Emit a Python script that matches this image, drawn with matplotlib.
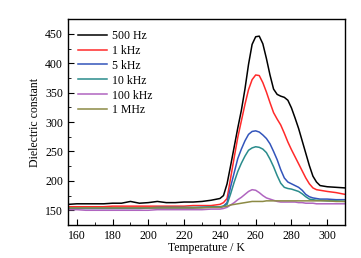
import numpy as np
import matplotlib.pyplot as plt
from matplotlib.ticker import MultipleLocator

plt.rcParams['font.family'] = ['Liberation Serif', 'DejaVu Serif']
plt.rcParams['font.size'] = 8.5

# temperature points (K)
temp = [155, 160, 165, 170, 175, 180, 185, 190, 195, 200, 205, 210, 215, 220, 225, 230, 235, 240,
        242, 244, 246, 248, 250, 252, 254, 256, 258, 260, 262, 264, 266, 268, 270, 272, 274, 276,
        278, 280, 282, 284, 286, 288, 290, 292, 294, 296, 300, 305, 310]

eps_500Hz = [160, 161, 161, 161, 161, 162, 162, 165, 162, 163, 165, 163, 163, 164, 164, 165, 167, 170,
             175, 195, 226, 258, 290, 320, 356, 398, 432, 445, 446, 433, 408, 380, 356, 347, 344, 342,
             337, 324, 307, 289, 268, 247, 226, 208, 198, 192, 190, 189, 188]
eps_1kHz = [156, 156, 156, 156, 156, 157, 157, 157, 157, 157, 157, 157, 157, 157, 158, 158, 158, 160,
            163, 170, 205, 240, 274, 302, 330, 355, 372, 380, 379, 367, 351, 333, 316, 305, 295, 281,
            266, 253, 241, 229, 217, 205, 195, 188, 185, 184, 182, 180, 177]
eps_5kHz = [153, 153, 153, 153, 153, 153, 153, 153, 153, 154, 154, 154, 154, 154, 154, 155, 155, 155,
            157, 163, 190, 214, 238, 254, 268, 279, 284, 285, 283, 278, 272, 263, 250, 236, 219, 205,
            198, 195, 192, 189, 184, 177, 173, 171, 170, 169, 169, 168, 168]
eps_10kHz = [154, 154, 154, 154, 154, 154, 154, 154, 154, 154, 155, 155, 155, 155, 155, 155, 156, 156,
             157, 160, 178, 198, 216, 230, 242, 252, 256, 258, 257, 254, 248, 237, 224, 209, 196, 189,
             187, 186, 184, 182, 178, 173, 169, 168, 167, 167, 166, 166, 165]
eps_100kHz = [151, 151, 150, 150, 150, 150, 150, 150, 150, 150, 151, 151, 151, 151, 151, 151, 152, 152,
              153, 155, 159, 163, 168, 172, 177, 182, 185, 184, 180, 175, 171, 169, 167, 165, 164, 164,
              164, 164, 164, 163, 163, 162, 162, 162, 161, 161, 161, 161, 161]
eps_1MHz = [154, 154, 154, 154, 154, 154, 154, 154, 154, 154, 154, 154, 154, 154, 154, 154, 155, 155,
            156, 157, 159, 160, 161, 162, 163, 164, 165, 165, 165, 165, 166, 166, 166, 166, 166, 166,
            166, 166, 166, 166, 166, 166, 166, 166, 166, 166, 166, 165, 165]

labels = ['500 Hz', '1 kHz', '5 kHz', '10 kHz', '100 kHz', '1 MHz']
colors = ['#000000', '#ff2a2a', '#3355bb', '#2a8c8c', '#b065c0', '#8c8a45']
series = [eps_500Hz, eps_1kHz, eps_5kHz, eps_10kHz, eps_100kHz, eps_1MHz]

fig = plt.figure(figsize=(3.61, 2.58), dpi=100)
ax = fig.add_axes([0.188, 0.128, 0.768, 0.798])

for s, lab, c in zip(series, labels, colors):
    ax.plot(temp, s, color=c, lw=1.1, label=lab)

ax.set_xlim(155, 310)
ax.set_ylim(125, 475)
ax.xaxis.set_major_locator(MultipleLocator(20))
ax.xaxis.set_minor_locator(MultipleLocator(10))
ax.yaxis.set_major_locator(MultipleLocator(50))
ax.yaxis.set_minor_locator(MultipleLocator(25))
ax.tick_params(which='both', direction='in')
ax.tick_params(which='major', length=4)
ax.tick_params(which='minor', length=2)
for sp in ax.spines.values():
    sp.set_linewidth(1.0)

ax.set_xlabel('Temperature / K', labelpad=0)
ax.set_ylabel('Dielectric constant', labelpad=3)

ax.legend(loc='upper left', frameon=False, handlelength=2.4, handletextpad=0.45,
          labelspacing=0.25, borderaxespad=0.6, borderpad=0.3)

fig.savefig('out.png', dpi=100)
